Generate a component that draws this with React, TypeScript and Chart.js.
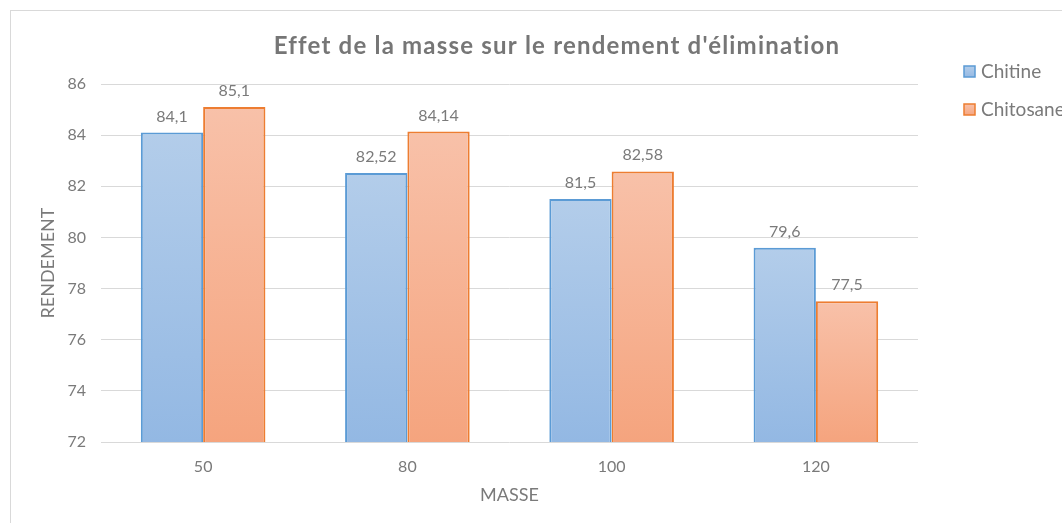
import React, { useEffect, useRef } from "react";
import { Chart, registerables } from "chart.js";

Chart.register(...registerables);

const categories = ["50", "80", "100", "120"];
const chitine = [84.1, 82.52, 81.5, 79.6];
const chitosane = [85.1, 84.14, 82.58, 77.5];
const seriesNames = ["Chitine", "Chitosane"];
const titleText = "Effet de la masse sur le rendement d'élimination";
const xTitle = "MASSE";
const yTitle = "RENDEMENT";
const yMin = 72;
const yMax = 86;
const yStep = 2;

const FONT = "Lato, 'Open Sans', sans-serif";
const TXT = "#7a7a7a";
const blueGrad = ["#b3cdea", "#93b8e3"];
const orangeGrad = ["#f8c1a9", "#f5a47e"];
const borderColors = ["#5b9bd5", "#ed7d31"];

const fmt = (v: number) => String(v).replace(".", ",");

function makeGrad(stops: string[]) {
  return (c: any) => {
    const chart = c.chart;
    const ys = chart.scales && chart.scales.y;
    if (!chart.chartArea || !ys || c.raw === undefined) return stops[1];
    const top = ys.getPixelForValue(c.raw);
    const bottom = ys.getPixelForValue(yMin);
    if (!isFinite(top) || !isFinite(bottom) || top === bottom) return stops[1];
    const g = chart.ctx.createLinearGradient(0, top, 0, bottom);
    g.addColorStop(0, stops[0]);
    g.addColorStop(1, stops[1]);
    return g;
  };
}

const decorPlugin = {
  id: "decor",
  beforeDraw(chart: any) {
    const ctx = chart.ctx;
    ctx.save();
    ctx.fillStyle = "#ffffff";
    ctx.fillRect(0, 0, chart.width, chart.height);
    ctx.strokeStyle = "#d9d9d9";
    ctx.lineWidth = 1;
    ctx.strokeRect(10.5, 10.5, chart.width + 20, chart.height + 20);
    ctx.restore();
  },
  afterDraw(chart: any) {
    const ctx = chart.ctx;
    const area = chart.chartArea;
    ctx.save();
    // title
    ctx.fillStyle = "#767676";
    ctx.font = `bold 24px ${FONT}`;
    (ctx as any).letterSpacing = "1.2px";
    ctx.textAlign = "center";
    ctx.textBaseline = "alphabetic";
    ctx.fillText(titleText, 557, 54);
    (ctx as any).letterSpacing = "0px";
    // axis titles
    ctx.textBaseline = "middle";
    ctx.font = `18px ${FONT}`;
    ctx.fillStyle = TXT;
    ctx.fillText(xTitle, (area.left + area.right) / 2, 495);
    ctx.save();
    ctx.translate(48, (area.top + area.bottom) / 2);
    ctx.rotate(-Math.PI / 2);
    ctx.fillText(yTitle, 0, 0);
    ctx.restore();
    // data labels
    ctx.textBaseline = "alphabetic";
    ctx.font = `16px ${FONT}`;
    chart.data.datasets.forEach((ds: any, di: number) => {
      const meta = chart.getDatasetMeta(di);
      meta.data.forEach((bar: any, i: number) => {
        ctx.fillText(fmt(ds.data[i]), bar.x, bar.y - 11);
      });
    });
    // legend
    const legendY = [72, 110];
    ctx.textAlign = "left";
    ctx.textBaseline = "middle";
    ctx.font = `19px ${FONT}`;
    seriesNames.forEach((name, i) => {
      const y = legendY[i];
      const stops = i === 0 ? blueGrad : orangeGrad;
      const g = ctx.createLinearGradient(0, y - 6, 0, y + 6);
      g.addColorStop(0, stops[0]);
      g.addColorStop(1, stops[1]);
      ctx.fillStyle = g;
      ctx.fillRect(964, y - 6, 11, 11);
      ctx.strokeStyle = borderColors[i];
      ctx.lineWidth = 1.5;
      ctx.strokeRect(964, y - 6, 11, 11);
      ctx.fillStyle = TXT;
      ctx.fillText(name, 981, y);
    });
    ctx.restore();
  },
};

export default function App() {
  const ref = useRef<HTMLCanvasElement>(null);
  useEffect(() => {
    if (!ref.current) return;
    const chart = new Chart(ref.current, {
      type: "bar",
      data: {
        labels: categories,
        datasets: [
          {
            label: seriesNames[0],
            data: chitine,
            backgroundColor: makeGrad(blueGrad),
            borderColor: borderColors[0],
            borderWidth: 2,
            borderSkipped: false,
          },
          {
            label: seriesNames[1],
            data: chitosane,
            backgroundColor: makeGrad(orangeGrad),
            borderColor: borderColors[1],
            borderWidth: 2,
            borderSkipped: false,
          },
        ],
      },
      options: {
        animation: false,
        responsive: false,
        maintainAspectRatio: false,
        layout: { padding: { left: 0, top: 84, right: 144, bottom: 0 } },
        datasets: { bar: { categoryPercentage: 0.61, barPercentage: 1 } },
        plugins: { legend: { display: false }, title: { display: false }, tooltip: { enabled: false } },
        scales: {
          x: {
            grid: { display: false, drawTicks: false },
            border: { display: false },
            ticks: { color: TXT, font: { family: FONT, size: 16 }, padding: 15 },
            afterFit: (s: any) => { s.height = 81; },
          },
          y: {
            min: yMin,
            max: yMax,
            grid: { color: "#d9d9d9", drawTicks: false, lineWidth: 1 },
            border: { display: false },
            ticks: { stepSize: yStep, color: TXT, font: { family: FONT, size: 16 }, padding: 15 },
            afterFit: (s: any) => { s.width = 101; },
          },
        },
      },
      plugins: [decorPlugin],
    });
    return () => chart.destroy();
  }, []);
  return (
    <div style={{ position: "fixed", left: 0, top: 0, width: 1062, height: 523 }}>
      <canvas ref={ref} width={1062} height={523} style={{ width: 1062, height: 523 }} />
    </div>
  );
}
